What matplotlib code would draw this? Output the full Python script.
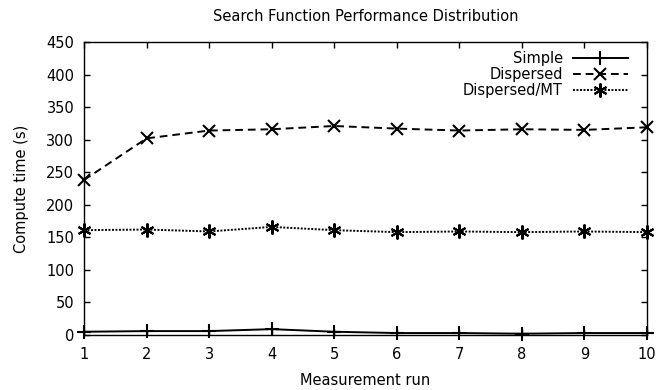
import matplotlib
matplotlib.use("Agg")
import matplotlib.pyplot as plt

runs = [1, 2, 3, 4, 5, 6, 7, 8, 9, 10]
simple = [5, 6, 6, 9, 5, 3, 3, 2, 3, 3]
dispersed = [238, 302, 314, 316, 321, 317, 314, 316, 315, 319]
dispersed_mt = [161, 162, 159, 166, 161, 158, 159, 158, 159, 158]

FS = 10.5
fig = plt.figure(figsize=(6.63, 3.9), dpi=100)
L, R, T, B = 84, 647, 42, 335
ax = fig.add_axes([L / 663, 1 - B / 390, (R - L) / 663, (B - T) / 390])

ax.plot(runs, simple, color='black', lw=1.4, ls='-', marker='+', ms=10, mew=1.5,
        label='Simple', clip_on=False)
ax.plot(runs, dispersed, color='black', lw=1.4, ls=(0, (4, 2.5)), marker='x', ms=8, mew=1.5,
        label='Dispersed', clip_on=False)
ax.plot(runs, dispersed_mt, color='black', lw=1.4, ls=(0, (1, 0.8)), marker=(6, 2, 0), ms=10, mew=1.5,
        label='Dispersed/MT', clip_on=False)

ax.set_xlim(1, 10)
ax.set_ylim(0, 450)
ax.set_xticks(runs)
ax.set_yticks(range(0, 451, 50))
ax.tick_params(direction='in', top=True, right=True, length=4, width=1, labelsize=FS)
ax.tick_params(axis='x', pad=8.5)
ax.tick_params(axis='y', pad=7)
for s in ax.spines.values():
    s.set_linewidth(1.0)

ax.set_title('Search Function Performance Distribution', fontsize=FS, pad=15)
ax.set_xlabel('Measurement run', fontsize=FS, labelpad=8)
ax.set_ylabel('Compute time (s)', fontsize=FS, labelpad=12)

leg = ax.legend(loc='upper right', frameon=False, markerfirst=False, fontsize=FS,
                handlelength=3.8, borderaxespad=0, borderpad=0, labelspacing=0.08,
                handletextpad=0.68,
                bbox_to_anchor=((628 - L) / (R - L), (B - 51) / (B - T)))
leg._legend_box.align = 'right'

fig.savefig('out.png', dpi=100)
